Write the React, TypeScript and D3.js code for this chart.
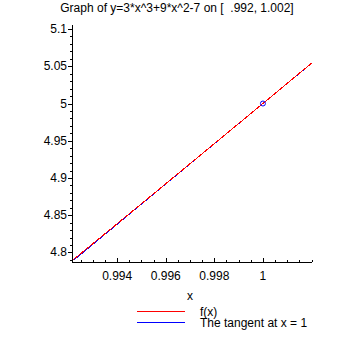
import React from "react";
import * as d3 from "d3";

const title = "Graph of y=3*x^3+9*x^2-7 on [  .992, 1.002]";
const xValues = [0.9922, 0.994, 0.996, 0.998, 1.0, 1.002];
const fValues = [4.7905, 4.8386, 4.8923, 4.9461, 5.0, 5.0541];
const tangentValues = [4.7894, 4.838, 4.892, 4.946, 5.0, 5.054];
const pointX = [1.0];
const pointY = [5.0];
const xTicks = [0.994, 0.996, 0.998, 1];
const yTicks = [4.8, 4.85, 4.9, 4.95, 5, 5.05, 5.1];
const legendLabels = ["f(x)", "The tangent at x = 1"];
const seriesColors = ["#ff0000", "#0000ff"];

export default function App() {
  const W = 355, H = 355;
  const left = 72, right = 312, top = 25, bottom = 262;
  const x = d3.scaleLinear().domain([0.99214, 1.00202]).range([left, right]);
  const y = d3.scaleLinear().domain([4.7872, 5.1054]).range([bottom, top]);
  const line = d3
    .line<[number, number]>()
    .x((d) => x(d[0]))
    .y((d) => y(d[1]));
  const fPts = xValues.map((v, i) => [v, fValues[i]] as [number, number]);
  const tPts = xValues.map((v, i) => [v, tangentValues[i]] as [number, number]);

  const yMinor = d3.range(4.79, 5.105, 0.01).filter(
    (v) => !yTicks.some((t) => Math.abs(t - v) < 1e-6)
  );
  const xMinor = d3.range(0.9925, 1.0021, 0.0005).filter(
    (v) => !xTicks.some((t) => Math.abs(t - v) < 1e-7)
  );
  const font = "'Liberation Sans', Arial, sans-serif";

  return (
    <svg
      width={W}
      height={H}
      style={{ position: "absolute", left: 0, top: 0, background: "#fff" }}
      fontFamily={font}
      fontSize={12}
    >
      <text x={177} y={12} textAnchor="middle" fill="#000" style={{ whiteSpace: "pre" }}>
        {title}
      </text>
      <g shapeRendering="crispEdges" stroke="#000">
        <line x1={left + 0.5} x2={left + 0.5} y1={top} y2={bottom + 1} />
        <line x1={left} x2={right} y1={bottom + 0.5} y2={bottom + 0.5} />
        {yTicks.map((t) => (
          <line key={"ym" + t} x1={left - 4} x2={left} y1={Math.round(y(t)) + 0.5} y2={Math.round(y(t)) + 0.5} />
        ))}
        {yMinor.map((t) => (
          <line key={"yn" + t} x1={left - 2} x2={left} y1={Math.round(y(t)) + 0.5} y2={Math.round(y(t)) + 0.5} />
        ))}
        {xTicks.map((t) => (
          <line key={"xm" + t} x1={Math.round(x(t)) + 0.5} x2={Math.round(x(t)) + 0.5} y1={bottom - 4} y2={bottom} />
        ))}
        {xMinor.map((t) => (
          <line key={"xn" + t} x1={Math.round(x(t)) + 0.5} x2={Math.round(x(t)) + 0.5} y1={bottom - 2} y2={bottom} />
        ))}
      </g>
      {yTicks.map((t) => (
        <text key={"yl" + t} x={left - 5} y={y(t) + 4} textAnchor="end" fill="#000">
          {String(t)}
        </text>
      ))}
      {xTicks.map((t) => (
        <text key={"xl" + t} x={x(t)} y={280} textAnchor="middle" fill="#000">
          {String(t)}
        </text>
      ))}
      <path d={line(tPts) || ""} fill="none" stroke={seriesColors[1]} strokeWidth={1} shapeRendering="crispEdges" />
      <path d={line(fPts) || ""} fill="none" stroke={seriesColors[0]} strokeWidth={1} shapeRendering="crispEdges" />
      {pointX.map((px, i) => (
        <circle key={"p" + i} cx={x(px)} cy={y(pointY[i])} r={2.5} fill="none" stroke="#0000ff" strokeWidth={1} />
      ))}
      <text x={190} y={300} textAnchor="middle" fill="#000">x</text>
      {legendLabels.map((lab, i) => (
        <g key={lab}>
          <line x1={137} x2={185} y1={311.5 + i * 11} y2={311.5 + i * 11} stroke={seriesColors[i]} shapeRendering="crispEdges" />
          <text x={200} y={316 + i * 11} fill="#000">{lab}</text>
        </g>
      ))}
    </svg>
  );
}
